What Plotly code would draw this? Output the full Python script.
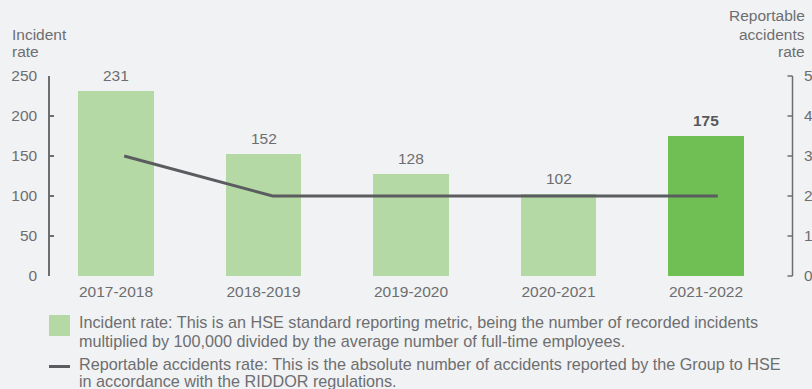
import plotly.graph_objects as go

categories = ["2017-2018", "2018-2019", "2019-2020", "2020-2021", "2021-2022"]
incident_rate = [231, 152, 128, 102, 175]
reportable_rate = [3, 2, 2, 2, 2]
left_ticks = [0, 50, 100, 150, 200, 250]
right_ticks = [0, 1, 2, 3, 4, 5]

W, H = 812, 389
L, R, T, B = 50, 792, 76, 276  # plot area in pixels

BG = "#f1f2f4"
TXT = "#6d6e70"
AX = "#6d6e70"
LIGHT = "#b5d9a5"
DARK = "#70bf55"
LINE = "#5b5c5f"
FONT = "Liberation Sans, Arial, Helvetica, sans-serif"
FS = 15.5
LFS = 16.2

def px(x):
    return (x - L) / (R - L)

def py(y):
    return (B - y) / (B - T)

bar_colors = [LIGHT] * (len(categories) - 1) + [DARK]

fig = go.Figure()
fig.add_trace(go.Bar(
    x=categories, y=incident_rate, marker=dict(color=bar_colors, line=dict(width=0)),
    width=0.515, xaxis="x", yaxis="y", showlegend=False, hoverinfo="skip",
))
fig.add_trace(go.Scatter(
    x=categories, y=reportable_rate, mode="lines", line=dict(color=LINE, width=3),
    xaxis="x2", yaxis="y2", showlegend=False, hoverinfo="skip",
))

annotations = []
for i, (c, v) in enumerate(zip(categories, incident_rate)):
    last = i == len(categories) - 1
    annotations.append(dict(
        x=c, y=v, xref="x", yref="y", text=f"<b>{v}</b>" if last else str(v),
        showarrow=False, yanchor="bottom", yshift=5,
        font=dict(size=FS, color="#58595b" if last else TXT, family=FONT),
    ))

def txt(x, y, s, anchor="left", size=FS):
    annotations.append(dict(x=px(x), y=py(y), xref="paper", yref="paper", text=s,
                            showarrow=False, xanchor=anchor, yanchor="middle",
                            font=dict(size=size, color=TXT, family=FONT)))

txt(10, 34, "Incident")
txt(10, 52, "rate")
txt(807, 16, "Reportable", "right")
txt(807, 34, "accidents", "right")
txt(807, 51, "rate", "right")

legend_lines = [
    (322, "Incident rate: This is an HSE standard reporting metric, being the number of recorded incidents"),
    (341, "multiplied by 100,000 divided by the average number of full-time employees."),
    (364, "Reportable accidents rate: This is the absolute number of accidents reported by the Group to HSE"),
    (381, "in accordance with the RIDDOR regulations."),
]
for y, s in legend_lines:
    txt(77, y, s, size=LFS)

R_MAX = right_ticks[-1]
shapes = [
    dict(type="rect", xref="paper", yref="paper", x0=px(49), x1=px(70), y0=py(315), y1=py(336),
         fillcolor=LIGHT, line=dict(width=0)),
    dict(type="line", xref="paper", yref="paper", x0=px(49), x1=px(70), y0=py(366.5), y1=py(366.5),
         line=dict(color=LINE, width=3)),
    # right-hand axis line and its inward ticks (paper coords, not clipped)
    dict(type="line", xref="paper", yref="paper", x0=px(R + 0.5), x1=px(R + 0.5), y0=0, y1=1,
         line=dict(color=AX, width=1.5), layer="above"),
]
for t in right_ticks:
    shapes.append(dict(type="line", xref="paper", yref="paper", x0=px(R - 4.5), x1=px(R + 0.5),
                       y0=t / R_MAX, y1=t / R_MAX, line=dict(color=AX, width=1.5), layer="above"))

fig.update_layout(
    width=W, height=H,
    margin=dict(l=L, r=W - R, t=T, b=H - B, pad=0, autoexpand=False),
    paper_bgcolor=BG, plot_bgcolor=BG,
    font=dict(family=FONT, color=TXT, size=FS),
    showlegend=False,
    bargap=0,
    xaxis=dict(type="category", range=[-0.4475, 4.583], showline=False, showgrid=False,
               ticks="", zeroline=False, tickfont=dict(size=FS, color=TXT),
               ticklabelstandoff=4, automargin=False),
    xaxis2=dict(type="category", overlaying="x", range=[-0.5, 4.5], visible=False),
    yaxis=dict(range=[0, 250], tickvals=left_ticks, showgrid=False, zeroline=False,
               showline=True, linecolor=AX, linewidth=1.5, ticks="inside", ticklen=4,
               tickcolor=AX, tickwidth=1.5, tickfont=dict(size=FS, color=TXT),
               ticklabelstandoff=8, automargin=False),
    yaxis2=dict(range=[0, R_MAX], tickvals=right_ticks, overlaying="y", side="right", anchor="x",
                showgrid=False, zeroline=False, showline=False, ticks="",
                tickfont=dict(size=FS, color=TXT), ticklabelstandoff=11, automargin=False),
    annotations=annotations,
    shapes=shapes,
)

fig.write_html("out.html")
